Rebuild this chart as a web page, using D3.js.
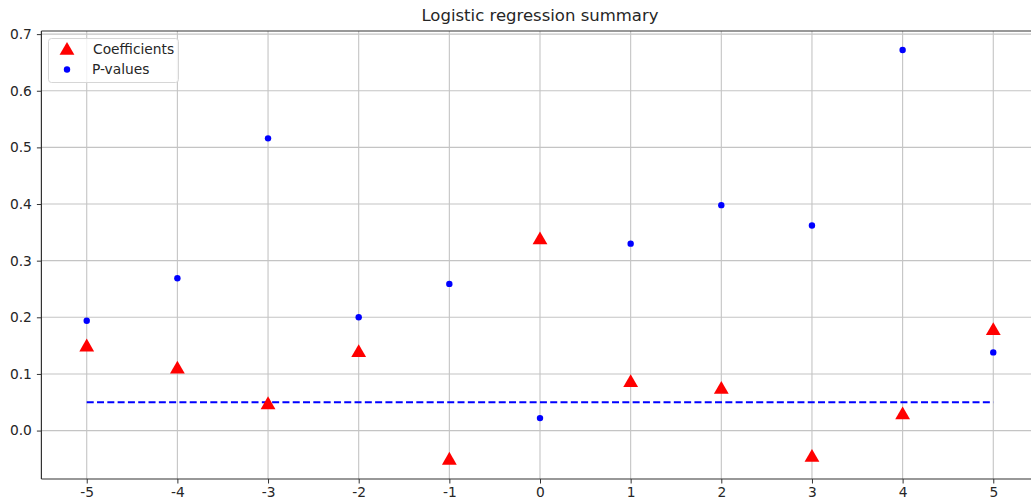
<!DOCTYPE html>
<html>
<head>
<meta charset="utf-8">
<script src="https://cdn.jsdelivr.net/npm/d3@7"></script>
<style>
  body { margin: 0; background: #fff; }
  text { font-family: "DejaVu Sans", sans-serif; fill: #262626; }
</style>
</head>
<body>
<svg id="chart" width="1031" height="502"></svg>
<script>
// values
var lags = [-5, -4, -3, -2, -1, 0, 1, 2, 3, 4, 5];
var coefficients = [0.150, 0.111, 0.048, 0.140, -0.050, 0.339, 0.087, 0.075, -0.045, 0.030, 0.179];
var pValues = [0.194, 0.269, 0.516, 0.200, 0.259, 0.022, 0.330, 0.398, 0.362, 0.672, 0.138];
var threshold = 0.05;
var xTicks = [-5, -4, -3, -2, -1, 0, 1, 2, 3, 4, 5];
var yTicks = [0.0, 0.1, 0.2, 0.3, 0.4, 0.5, 0.6, 0.7];

var svg = d3.select("#chart");

// plot box (right edge falls outside the picture, as in the original)
var mLeft = 41.4, mRight = 1038.6, mTop = 31, mBottom = 479;

var x = d3.scaleLinear().domain([-5.5, 5.5]).range([mLeft, mRight]);
var y = d3.scaleLinear().domain([-0.0855, 0.7055]).range([mBottom, mTop]);

// grid
svg.append("g").selectAll("line").data(xTicks).enter().append("line")
    .attr("x1", d => x(d)).attr("x2", d => x(d))
    .attr("y1", mTop).attr("y2", mBottom)
    .attr("stroke", "#c4c4c4").attr("stroke-width", 1.1);
svg.append("g").selectAll("line").data(yTicks).enter().append("line")
    .attr("x1", mLeft).attr("x2", mRight)
    .attr("y1", d => y(d)).attr("y2", d => y(d))
    .attr("stroke", "#c4c4c4").attr("stroke-width", 1.1);

// threshold line
svg.append("line")
    .attr("x1", x(lags[0])).attr("x2", x(lags[lags.length - 1]))
    .attr("y1", y(threshold)).attr("y2", y(threshold))
    .attr("stroke", "#0000ff").attr("stroke-width", 2)
    .attr("stroke-dasharray", "7,3.3");

// axes
var xAxis = d3.axisBottom(x).tickValues(xTicks).tickSize(4.5).tickPadding(4)
    .tickFormat(d3.format("d"));
var yAxis = d3.axisLeft(y).tickValues(yTicks).tickSize(4.5).tickPadding(5)
    .tickFormat(d3.format(".1f"));

var gx = svg.append("g").attr("transform", "translate(0," + mBottom + ")").call(xAxis);
var gy = svg.append("g").attr("transform", "translate(" + mLeft + ",0)").call(yAxis);
[gx, gy].forEach(function (g) {
    g.select(".domain").remove();
    g.selectAll(".tick line").attr("stroke", "#333").attr("stroke-width", 1);
    g.selectAll(".tick text").style("font-size", "13.8px").attr("fill", "#262626");
});
gx.selectAll(".tick text").text(d => d < 0 ? "-" + Math.abs(d) : d);

// spines
svg.append("line").attr("x1", mLeft).attr("x2", mLeft).attr("y1", mTop).attr("y2", mBottom)
    .attr("stroke", "#333").attr("stroke-width", 1.2);
svg.append("line").attr("x1", mLeft).attr("x2", mRight).attr("y1", mBottom).attr("y2", mBottom)
    .attr("stroke", "#333").attr("stroke-width", 1.2);
svg.append("line").attr("x1", mLeft).attr("x2", mRight).attr("y1", mTop).attr("y2", mTop)
    .attr("stroke", "#333").attr("stroke-width", 1.2);

var tri = d3.symbol().type(d3.symbolTriangle).size(95);

// p-values
svg.append("g").selectAll("circle").data(lags).enter().append("circle")
    .attr("cx", d => x(d)).attr("cy", (d, i) => y(pValues[i]))
    .attr("r", 3.2).attr("fill", "#0000ff");

// coefficients
svg.append("g").selectAll("path").data(lags).enter().append("path")
    .attr("d", tri)
    .attr("transform", (d, i) => "translate(" + x(d) + "," + (y(coefficients[i]) + 1.5) + ")")
    .attr("fill", "#ff0000");

// title
svg.append("text").attr("x", (mLeft + mRight) / 2).attr("y", 21)
    .attr("text-anchor", "middle").style("font-size", "16.5px")
    .text("Logistic regression summary");

// legend
var lg = svg.append("g");
lg.append("rect").attr("x", 48.5).attr("y", 38.5).attr("width", 130).attr("height", 44)
    .attr("rx", 3).attr("fill", "#fff").attr("fill-opacity", 0.8)
    .attr("stroke", "#d6d6d6");
lg.append("path").attr("d", tri).attr("transform", "translate(67,50.5)").attr("fill", "#ff0000");
lg.append("circle").attr("cx", 67).attr("cy", 69.5).attr("r", 3.2).attr("fill", "#0000ff");
lg.append("text").attr("x", 93).attr("y", 53.5).style("font-size", "13.8px").text("Coefficients");
lg.append("text").attr("x", 92).attr("y", 74).style("font-size", "13.8px").text("P-values");
</script>
</body>
</html>
